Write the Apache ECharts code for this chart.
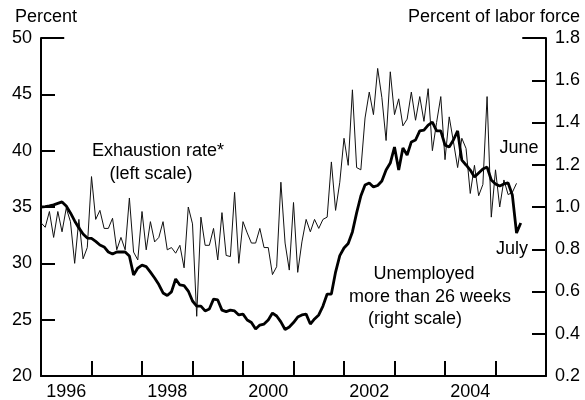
<!DOCTYPE html>
<html>
<head>
<meta charset="utf-8">
<script src="https://cdn.jsdelivr.net/npm/echarts@6/dist/echarts.min.js"></script>
<style>
html,body{margin:0;padding:0;background:#fff;}
#chart{width:585px;height:400px;}
</style>
</head>
<body>
<div id="chart"></div>
<script>
// Monthly data starting January 1996
const startYear = 1996;
// Exhaustion rate, percent (left scale), Jan 1996 - Jun 2005
const exhaustionRate = [
  33.6,33.2,34.6,32.3,34.6,32.8,34.9,33.7,30.0,33.9,30.4,31.4,
  37.7,33.9,34.7,33.1,33.1,34.0,31.2,32.3,31.2,35.8,31.0,30.3,
  34.6,31.2,33.7,31.9,32.3,33.7,31.2,31.4,30.9,31.6,29.6,35.0,
  33.5,25.3,34.1,31.6,31.6,33.1,30.3,34.5,30.7,30.6,36.3,30.0,
  33.7,32.7,31.8,31.8,33.1,31.4,31.4,29.0,29.7,37.2,31.8,29.4,
  35.4,29.2,31.9,33.9,32.8,33.9,33.1,33.9,34.1,39.0,34.7,37.2,
  41.1,38.7,45.4,38.5,38.3,42.9,45.2,43.2,47.3,44.7,40.9,47.0,
  43.2,44.6,42.2,42.8,45.2,42.7,44.8,42.6,45.5,40.0,42.5,44.8,
  39.2,43.0,40.8,38.5,41.1,40.2,36.2,38.7,36.0,37.0,44.8,34.1,
  38.3,35.0,37.4,36.1,36.3,37.1
];
// Unemployed more than 26 weeks, percent of labor force (right scale), Jan 1996 - Jul 2005
const longTermUnemployed = [
  1.000,1.002,1.005,1.010,1.017,1.024,1.005,0.972,0.934,0.901,0.872,0.853,
  0.851,0.837,0.820,0.811,0.787,0.777,0.787,0.787,0.787,0.768,0.678,0.711,
  0.725,0.718,0.692,0.664,0.633,0.593,0.581,0.598,0.659,0.631,0.628,0.602,
  0.555,0.531,0.531,0.508,0.517,0.564,0.560,0.512,0.505,0.512,0.508,0.489,
  0.493,0.465,0.453,0.422,0.441,0.446,0.465,0.498,0.484,0.456,0.420,0.432,
  0.453,0.479,0.489,0.493,0.446,0.470,0.489,0.531,0.588,0.588,0.692,0.770,
  0.806,0.827,0.882,0.972,1.052,1.104,1.114,1.095,1.102,1.123,1.175,1.208,
  1.284,1.175,1.279,1.246,1.308,1.317,1.360,1.364,1.388,1.402,1.360,1.360,
  1.293,1.284,1.317,1.360,1.222,1.199,1.175,1.142,1.161,1.180,1.189,1.128,
  1.109,1.099,1.109,1.114,1.057,0.877,0.924
];
const yearLabels = [1996, 1998, 2000, 2002, 2004];
const leftTicks = {min: 20, max: 50, interval: 5};
const rightTicks = {min: 0.2, max: 1.8, interval: 0.2};

const toPoints = arr => arr.map((v, i) => [startYear + i / 12, v]);

const FONT = 'Liberation Sans, Arial, sans-serif';
const chart = echarts.init(document.getElementById('chart'), null, {renderer: 'canvas'});

const axisLineStyle = {color: '#000', width: 2};

chart.setOption({
  animation: false,
  backgroundColor: '#fff',
  grid: {left: 41, right: 39, top: 38, bottom: 24, containLabel: false, outerBoundsMode: 'none'},
  xAxis: {
    type: 'value', min: 1996, max: 2006, interval: 1,
    axisLine: {show: true, lineStyle: axisLineStyle},
    axisTick: {show: true, inside: true, length: 15, lineStyle: {color: '#000', width: 2}},
    splitLine: {show: false},
    axisLabel: {
      show: true, color: '#000', fontSize: 18, fontFamily: FONT, margin: 7,
      align: 'center', padding: [0, 0, 0, 50.5],
      formatter: v => yearLabels.indexOf(Math.round(v)) >= 0 && Math.abs(v - Math.round(v)) < 1e-6 ? String(Math.round(v)) : ''
    }
  },
  yAxis: [
    {
      type: 'value', position: 'left', min: leftTicks.min, max: leftTicks.max, interval: leftTicks.interval,
      axisLine: {show: true, lineStyle: axisLineStyle},
      axisTick: {show: true, inside: true, length: 14, lineStyle: {color: '#000', width: 2}},
      splitLine: {show: false},
      axisLabel: {color: '#000', fontSize: 18, fontFamily: FONT, margin: 9}
    },
    {
      type: 'value', position: 'right', min: rightTicks.min, max: rightTicks.max, interval: rightTicks.interval,
      axisLine: {show: true, lineStyle: axisLineStyle},
      axisTick: {show: true, inside: true, length: 14, lineStyle: {color: '#000', width: 2}},
      splitLine: {show: false},
      axisLabel: {color: '#000', fontSize: 18, fontFamily: FONT, margin: 9, formatter: v => v.toFixed(1)}
    }
  ],
  series: [
    {
      name: 'Exhaustion rate', type: 'line', yAxisIndex: 0,
      data: toPoints(exhaustionRate), showSymbol: false, symbol: 'none',
      lineStyle: {color: '#111', width: 1}, z: 3,
      markLine: {
        silent: true, symbol: 'none', label: {show: false},
        lineStyle: {color: '#000', width: 2, type: 'solid'},
        data: [[{coord: [1996, leftTicks.max]}, {coord: [1996.46, leftTicks.max]}]]
      }
    },
    {
      name: 'Unemployed more than 26 weeks', type: 'line', yAxisIndex: 1,
      data: toPoints(longTermUnemployed), showSymbol: false, symbol: 'none',
      lineStyle: {color: '#000', width: 2.8}, z: 4,
      markLine: {
        silent: true, symbol: 'none', label: {show: false},
        lineStyle: {color: '#000', width: 2, type: 'solid'},
        data: [[{coord: [2005.53, rightTicks.max]}, {coord: [2006, rightTicks.max]}]]
      }
    }
  ],
  graphic: [
    {type: 'text', x: 15, y: 17, style: {text: 'Percent', fill: '#000', font: '18px ' + FONT, align: 'left', verticalAlign: 'middle'}},
    {type: 'text', x: 580, y: 17, style: {text: 'Percent of labor force', fill: '#000', font: '18px ' + FONT, align: 'right', verticalAlign: 'middle'}},
    {type: 'text', x: 158, y: 151, style: {text: 'Exhaustion rate*', fill: '#000', font: '18px ' + FONT, align: 'center', verticalAlign: 'middle'}},
    {type: 'text', x: 151, y: 174, style: {text: '(left scale)', fill: '#000', font: '18px ' + FONT, align: 'center', verticalAlign: 'middle'}},
    {type: 'text', x: 424, y: 274, style: {text: 'Unemployed', fill: '#000', font: '18px ' + FONT, align: 'center', verticalAlign: 'middle'}},
    {type: 'text', x: 430, y: 297, style: {text: 'more than 26 weeks', fill: '#000', font: '18px ' + FONT, align: 'center', verticalAlign: 'middle'}},
    {type: 'text', x: 415, y: 319, style: {text: '(right scale)', fill: '#000', font: '18px ' + FONT, align: 'center', verticalAlign: 'middle'}},
    {type: 'text', x: 519, y: 148, style: {text: 'June', fill: '#000', font: '18px ' + FONT, align: 'center', verticalAlign: 'middle'}},
    {type: 'text', x: 512, y: 249, style: {text: 'July', fill: '#000', font: '18px ' + FONT, align: 'center', verticalAlign: 'middle'}}
  ]
});
</script>
</body>
</html>
